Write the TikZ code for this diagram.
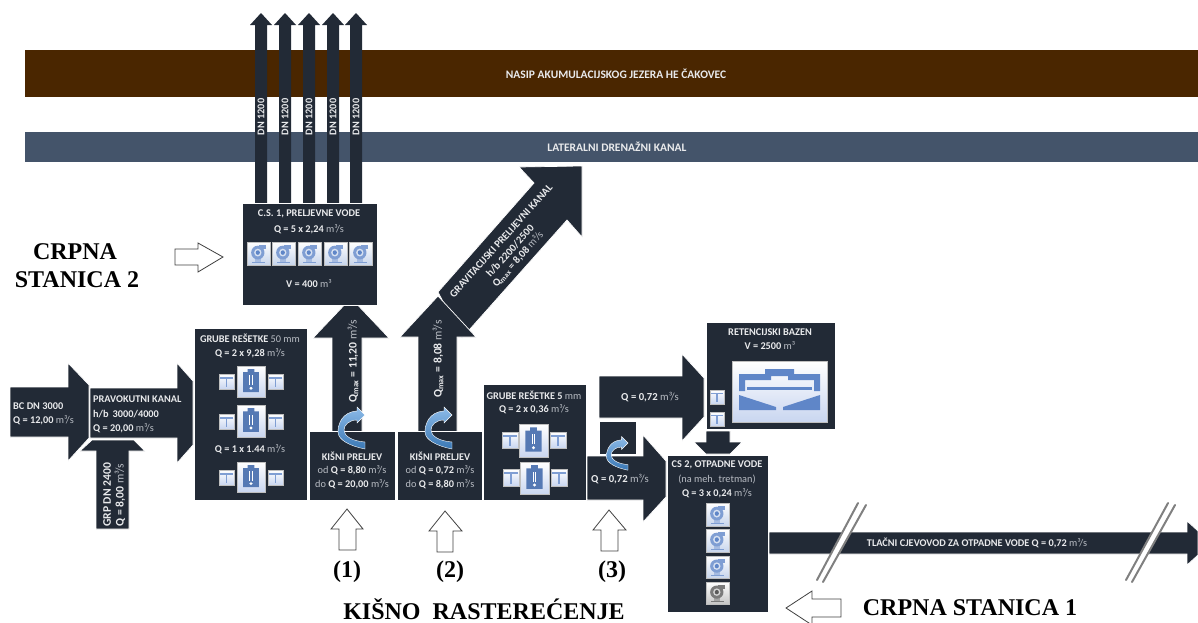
\documentclass[tikz,border=0pt]{standalone}
\usepackage{fontspec}
\setmainfont{Carlito}
\newfontfamily\serifb{Liberation Serif}[BoldFont={Liberation Serif Bold}]
\definecolor{dk}{HTML}{222A36}
\definecolor{brownb}{HTML}{4A2600}
\definecolor{blueb}{HTML}{44546A}
\definecolor{txtc}{HTML}{E9EAEC}
\definecolor{soft}{HTML}{B9BDC4}
\definecolor{iconb}{HTML}{5F86C8}
\definecolor{iconl}{HTML}{C9D6F0}
\definecolor{icong}{HTML}{595959}
\definecolor{curvetop}{HTML}{8DBBE8}
\definecolor{curvebot}{HTML}{3A78B5}
\tikzset{
  dkshape/.style={fill=dk,draw=white,line width=0.7pt,line join=miter},
  lab/.style={font=\fontsize{10.3}{11}\selectfont,text=txtc,inner sep=0pt,align=center},
  labbig/.style={lab,font=\fontsize{11.6}{12}\selectfont},
  labband/.style={lab,font=\bfseries\fontsize{11.5}{12}\selectfont},
  labl/.style={lab,anchor=west,align=left},
  big/.style={font=\serifb\bfseries\fontsize{24}{26}\selectfont,text=black,inner sep=0pt},
  hollow/.style={fill=white,draw=black!75,line width=0.8pt,line join=miter},
  curve/.style={top color=curvetop,bottom color=curvebot,draw=white,line width=0.4pt},
  breakline/.style={draw=black!50,line width=2pt,line cap=round}
}
\newcommand{\bo}[1]{\textbf{#1}}
\newcommand{\un}{{\color{soft} m³/s}}
\newcommand{\PumpIcon}[5]{%
\begin{scope}[shift={(#1,#2)},x=#3pt,y=-#4pt]
 \shade[top color=white,bottom color=#5!35!white,draw=black!25,line width=.4pt] (0,0) rectangle (1,1);
 \fill[#5!80!white] (.5,.12) rectangle (.84,.3);
 \fill[#5!80!white] (.2,.86) rectangle (.8,.93);
 \fill[#5!55!white] (.36,.65) rectangle (.62,.86);
 \fill[#5!80!white] (.47,.46) ellipse [x radius=.29,y radius=.3];
 \fill[#5!25!white] (.47,.46) ellipse [x radius=.16,y radius=.17];
 \fill[#5] (.47,.46) ellipse [x radius=.09,y radius=.1];
\end{scope}}
\newcommand{\GateIcon}[4]{%
\begin{scope}[shift={(#1,#2)},x=#3pt,y=-#4pt]
 \shade[top color=white,bottom color=iconl,draw=black!25,line width=.4pt] (0,0) rectangle (1,1);
 \fill[iconb!80!white] (.08,.2) rectangle (.92,.3);
 \fill[iconb!80!white] (.44,.3) rectangle (.56,.86);
\end{scope}}
\newcommand{\GrateIcon}[4]{%
\begin{scope}[shift={(#1,#2)},x=#3pt,y=-#4pt]
 \shade[top color=white,bottom color=iconl,draw=black!25,line width=.4pt] (0,0) rectangle (1,1);
 \fill[iconb!90!black] (.22,.2) -- (.38,.2) -- (.38,.1) -- (.62,.1) -- (.62,.2) -- (.78,.2) -- (.78,.84) -- (.22,.84) -- cycle;
 \fill[white] (.44,.3) rectangle (.47,.62);
 \fill[white] (.53,.3) rectangle (.56,.62);
 \fill[white] (.5,.72) ellipse [x radius=.06,y radius=.05];
\end{scope}}
\newcommand{\CurveArrow}[3]{%
\begin{scope}[shift={(#1,#2)},scale=#3]
 \shade[curve] (0,0) -- (-8,-8) -- (-8,-4) .. controls (-23,-3) and (-27,9) .. (-27,17)
   .. controls (-27,25) and (-15,31) .. (0,34) -- (0,27)
   .. controls (-13,26) and (-21,21) .. (-21,15)
   .. controls (-21,10) and (-16,5) .. (-8,5) -- (-8,8) -- cycle;
\end{scope}}
\begin{document}
\begin{tikzpicture}[x=1pt,y=-1pt]
\useasboundingbox (0,0) rectangle (1198,622);
% bands
\fill[brownb] (25,50) rectangle (1198,97);
\fill[blueb] (25,132) rectangle (1198,162);
\node[labband] (nasip) at (616,74) {NASIP AKUMULACIJSKOG JEZERA HE ČAKOVEC};
\node[labband] (lateral) at (617,147) {LATERALNI DRENAŽNI KANAL};
% DN pipes
\foreach \cx/\nm in {261/a,285/b,309/c,333/d,356/e}{
  \fill[dk] ({\cx-6},204) -- ({\cx-6},25) -- ({\cx-11},25) -- (\cx,13) -- ({\cx+11},25) -- ({\cx+6},25) -- ({\cx+6},204) -- cycle;
  \node[lab,rotate=90,font=\bfseries\fontsize{10.3}{11}\selectfont] (dn\nm) at (\cx,117) {DN 1200};
}
% diagonal channel
\path[dkshape] (438,292) -- (534,183) -- (519,167) -- (582,166) -- (582,237) -- (567,220) -- (478,320) -- (462,338) -- cycle;
\node[lab,rotate=48,font=\fontsize{10.6}{11}\selectfont] (grav1) at (501,241) {\bo{GRAVITACIJSKI PRELIJEVNI KANAL}};
\node[lab,rotate=48,font=\fontsize{10.6}{11}\selectfont] (grav2) at (510,251) {\bo{h/b 2200/2500}};
\node[lab,rotate=48,font=\fontsize{10.6}{11}\selectfont] (grav3) at (518,259) {\bo{Q\textsubscript{max} = 8,08} \un};
% vertical arrows
\path[dkshape] (332,432) -- (332,338) -- (313,338) -- (351,298) -- (389,338) -- (362,338) -- (362,432) -- cycle;
\path[dkshape] (418,432) -- (418,337) -- (400,337) -- (438,296) -- (476,337) -- (457,337) -- (457,432) -- cycle;
\node[labbig,rotate=90] (q1) at (353,361) {\bo{Q\textsubscript{max} = 11,20} \un};
\node[labbig,rotate=90] (q2) at (438,359) {\bo{Q\textsubscript{max} = 8,08} \un};
% C.S.1 box
\path[dkshape] (242,203) rectangle (377,305);
\node[lab] (cs1a) at (309,214) {\bo{C.S. 1, PRELJEVNE VODE}};
\node[lab] (cs1b) at (309,229) {\bo{Q = 5 x 2,24} \un};
\foreach \px in {247,272,298,324,349}{\PumpIcon{\px}{242}{23}{23}{iconb}}
\node[lab] (cs1c) at (309,284) {\bo{V = 400} {\color{soft} m³}};
% inlet arrows
\path[dkshape] (10,387) -- (68,387) -- (68,363) -- (89,385) -- (89,438) -- (68,461) -- (68,437) -- (10,437) -- cycle;
\path[dkshape] (90,388) -- (177,388) -- (177,363) -- (193,381) -- (193,445) -- (177,463) -- (177,438) -- (90,438) -- cycle;
\path[dkshape] (96,529) -- (96,451) -- (80,451) -- (92,440) -- (134,440) -- (145,451) -- (129,451) -- (129,529) -- cycle;
\node[labl] (bc1) at (13,406) {\bo{BC DN 3000}};
\node[labl] (bc2) at (13,420) {\bo{Q = 12,00} \un};
\node[labl] (pk1) at (93,399) {\bo{PRAVOKUTNI KANAL}};
\node[labl] (pk2) at (93,414) {\bo{h/b\, 3000/4000}};
\node[labl] (pk3) at (93,428) {\bo{Q = 20,00} \un};
\node[labbig,rotate=90] (grp1) at (107,495) {\bo{GRP DN 2400}};
\node[labbig,rotate=90] (grp2) at (120,495) {\bo{Q = 8,00} \un};
% coarse screens 50 mm
\path[dkshape] (194,328) rectangle (307,500);
\node[lab] (g1) at (250,338) {\bo{GRUBE REŠETKE} {\color{soft}50 mm}};
\node[lab] (g2) at (250,353) {\bo{Q = 2 x 9,28} \un};
\node[lab] (g3) at (250,449) {\bo{Q = 1 x 1.44} \un};
\GrateIcon{237}{366}{28}{31}\GateIcon{219}{374}{15}{15}\GateIcon{268}{374}{15}{15}
\GrateIcon{237}{405}{28}{32}\GateIcon{219}{414}{15}{15}\GateIcon{268}{414}{15}{15}
\GrateIcon{237}{462}{28}{30}\GateIcon{219}{470}{15}{15}\GateIcon{268}{470}{15}{15}
% overflows
\path[dkshape] (309,431) rectangle (395,500);
\path[dkshape] (397,431) rectangle (482,500);
\node[lab] (k1a) at (352,456) {\bo{KIŠNI PRELJEV}};
\node[lab] (k1b) at (352,470) {{\color{soft}od} \bo{Q = 8,80} \un};
\node[lab] (k1c) at (352,484) {{\color{soft}do} \bo{Q = 20,00} \un};
\node[lab] (k2a) at (440,456) {\bo{KIŠNI PRELJEV}};
\node[lab] (k2b) at (440,470) {{\color{soft}od} \bo{Q = 0,72} \un};
\node[lab] (k2c) at (440,484) {{\color{soft}do} \bo{Q = 8,80} \un};
\CurveArrow{365}{415}{1}
\CurveArrow{452}{415}{1}
% coarse screens 5 mm
\path[dkshape] (483,384) rectangle (586,500);
\node[lab] (g5a) at (534,395) {\bo{GRUBE REŠETKE 5} {\color{soft}mm}};
\node[lab] (g5b) at (534,409) {\bo{Q = 2 x 0,36} \un};
\GrateIcon{519}{424}{29}{33}\GateIcon{502}{432}{16}{16}\GateIcon{550}{432}{16}{16}
\GrateIcon{520}{462}{29}{32}\GateIcon{503}{469}{16}{17}\GateIcon{551}{469}{16}{17}
% Q 0,72 arrows
\path[dkshape] (599,421) rectangle (636,454);
\path[dkshape] (587,456) -- (643,456) -- (643,435) -- (666,461) -- (666,497) -- (643,522) -- (643,500) -- (587,500) -- cycle;
\path[dkshape] (599,376) -- (682,376) -- (682,354) -- (704,378) -- (704,417) -- (682,441) -- (682,418) -- (599,418) -- cycle;
\node[lab,font=\fontsize{10.7}{11}\selectfont] (q3) at (620,479) {\bo{Q = 0,72} \un};
\node[lab,font=\fontsize{10.7}{11}\selectfont] (q4) at (650,397) {\bo{Q = 0,72} \un};
\CurveArrow{628}{443}{0.8}
% retention
\path[dkshape] (706,322) rectangle (835,429);
\node[lab] (r1) at (770,332) {\bo{RETENCIJSKI BAZEN}};
\node[lab] (r2) at (770,346) {\bo{V = 2500} {\color{soft} m³}};
\shade[top color=white,bottom color=iconl,draw=black!25,line width=.4pt] (732,361) rectangle (827,422);
\fill[iconb] (739,374) -- (765,374) -- (765,369) -- (794,369) -- (794,374) -- (820,374) -- (820,391) -- (814,391) -- (814,380) -- (788,380) -- (788,376) -- (771,376) -- (771,380) -- (745,380) -- (745,391) -- (739,391) -- cycle;
\fill[iconb] (747,387) rectangle (812,390);
\fill[iconb] (739,395) -- (776,407) -- (776,410) -- (739,410) -- cycle;
\fill[iconb] (820,395) -- (783,407) -- (783,410) -- (820,410) -- cycle;
\GateIcon{710}{390}{14}{14}\GateIcon{710}{412}{14}{14}
% down arrow
\path[dkshape] (706,431) -- (730,431) -- (730,442) -- (742,442) -- (730,454) -- (706,454) -- (694,442) -- (706,442) -- cycle;
% pressure pipe
\path[dkshape] (769,532) -- (1187,532) -- (1187,521) -- (1198,531) -- (1198,555) -- (1187,565) -- (1187,554) -- (769,554) -- cycle;
\node[lab] (tl) at (977,543) {\bo{TLAČNI CJEVOVOD ZA OTPADNE VODE Q = 0,72} \un};
% CS2
\path[dkshape] (667,455) rectangle (768,612);
\node[lab] (c2a) at (717,465) {\bo{CS 2, OTPADNE VODE}};
\node[lab] (c2b) at (717,479) {{\color{soft}(na meh. tretman)}};
\node[lab] (c2c) at (717,493) {\bo{Q = 3 x 0,24} \un};
\PumpIcon{706}{503}{23}{23}{iconb}
\PumpIcon{706}{529}{23}{23}{iconb}
\PumpIcon{706}{556}{23}{22}{iconb}
\PumpIcon{706}{582}{23}{22}{icong}
% pipe break marks
\fill[white] (817,580) -- (858,503) -- (866,505) -- (823,582) -- cycle;
\draw[breakline] (817,580) -- (858,503);
\draw[breakline] (823,582) -- (866,505);
\fill[white] (1126,580) -- (1168,503) -- (1175,505) -- (1132,582) -- cycle;
\draw[breakline] (1126,580) -- (1168,503);
\draw[breakline] (1132,582) -- (1175,505);
% hollow arrows
\path[hollow] (347,509) -- (363,529) -- (356,529) -- (356,550) -- (339,550) -- (339,529) -- (331,529) -- cycle;
\path[hollow] (445,511) -- (462,531) -- (453,531) -- (453,552) -- (437,552) -- (437,531) -- (429,531) -- cycle;
\path[hollow] (609,510) -- (626,530) -- (618,530) -- (618,551) -- (601,551) -- (601,530) -- (593,530) -- cycle;
\path[hollow] (786,608) -- (812,591) -- (812,599) -- (841,599) -- (841,617) -- (812,617) -- (812,625) -- cycle;
\path[hollow] (175,249) -- (198,249) -- (198,243) -- (223,257) -- (198,272) -- (198,265) -- (175,265) -- cycle;
% serif labels
\node[big] (st2a) at (75,252) {CRPNA};
\node[big] (st2b) at (77,280) {STANICA 2};
\node[big] (n1) at (347,572) {(1)};
\node[big] (n2) at (450,572) {(2)};
\node[big] (n3) at (612,572) {(3)};
\node[big,anchor=base] (kr) at (484,619) {KIŠNO\ \ RASTEREĆENJE};
\node[big] (st1) at (970,608) {CRPNA STANICA 1};
\end{tikzpicture}
\end{document}
